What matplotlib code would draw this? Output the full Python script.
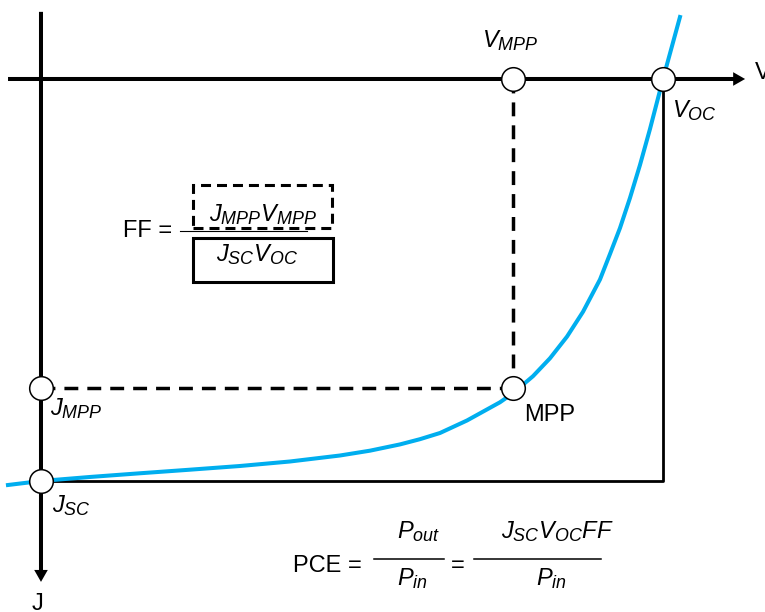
import matplotlib.pyplot as plt
import matplotlib._mathtext as mathtext_core
from matplotlib.patches import Rectangle
from matplotlib.lines import Line2D

plt.rcParams['font.family'] = 'Liberation Sans'
plt.rcParams['mathtext.fontset'] = 'custom'
plt.rcParams['mathtext.rm'] = 'Liberation Sans'
plt.rcParams['mathtext.it'] = 'Liberation Sans:italic'
plt.rcParams['mathtext.bf'] = 'Liberation Sans:bold'
plt.rcParams['lines.scale_dashes'] = False
# slightly larger subscripts than the mathtext default
mathtext_core.SHRINK_FACTOR = 0.76

# J-V curve, V in units of V_OC, J in units of J_SC (J drawn downward)
v_curve = [-0.0531, 0.0, 0.0788, 0.1592, 0.2395, 0.3199, 0.4003, 0.4807, 0.5289,
           0.5772, 0.6093, 0.6415, 0.6849, 0.7379, 0.7588, 0.7910, 0.8183, 0.8457,
           0.8714, 0.8987, 0.9148, 0.9309, 0.9469, 0.9630, 0.9791, 1.0, 1.0273]
j_curve = [1.0100, 1.0, 0.9900, 0.9808, 0.9719, 0.9627, 0.9515, 0.9366, 0.9246,
           0.9090, 0.8960, 0.8806, 0.8495, 0.8042, 0.7816, 0.7393, 0.6948, 0.6408,
           0.5791, 0.4988, 0.4353, 0.3706, 0.2960, 0.2139, 0.1244, 0.0, -0.1542]

V_OC, J_SC = 1.0, 1.0
V_MPP, J_MPP = 0.7588, 0.7687

# axis extents
v_axis = [-0.053, 1.132]
j_axis = [-0.167, 1.251]

BLUE = '#00AEEF'
W, H = 765, 612
FS = 17


def frac(x, y):
    # pixel position -> axes fraction
    return x / W, 1 - y / H


fig = plt.figure(figsize=(W / 100, H / 100), dpi=100)
ax = fig.add_axes([0, 0, 1, 1])
ax.set_xlim(-0.0659, 1.164)
ax.set_ylim(1.3259, -0.1965)
ax.axis('off')

# axes with arrow heads
arrow = dict(arrowstyle='simple,head_length=8.6,head_width=9.8,tail_width=2.9',
             fc='black', ec='none', lw=0, shrinkA=0, shrinkB=0, mutation_scale=1)
ax.annotate('', xy=(v_axis[1], 0), xytext=(v_axis[0], 0), arrowprops=arrow, zorder=2)
ax.annotate('', xy=(0, j_axis[1]), xytext=(0, j_axis[0]), arrowprops=arrow, zorder=2)

# J_SC * V_OC rectangle
ax.plot([0, V_OC, V_OC], [J_SC, J_SC, 0], color='black', lw=2.0, zorder=1)

# MPP rectangle (dashed)
ax.plot([V_MPP, V_MPP], [0, J_MPP], color='black', lw=2.5, dashes=(10, 6.5), zorder=2)
ax.plot([0, V_MPP], [J_MPP, J_MPP], color='black', lw=2.5, dashes=(10, 6.5), zorder=2)

ax.plot(v_curve, j_curve, color=BLUE, lw=2.9, solid_joinstyle='round', zorder=3)

ax.plot([V_MPP, V_OC, 0, 0, V_MPP], [0, 0, J_MPP, J_SC, J_MPP], 'o', ls='none',
        ms=17, mfc='white', mec='black', mew=1.1, zorder=5)

# point labels
labels = [
    (r'$V_{MPP}$', (V_MPP, 0), (-3, 32), 'center'),
    (r'$V_{OC}$', (V_OC, 0), (9, -38), 'left'),
    ('V', (v_axis[1], 0), (10, 0), 'left'),
    (r'$J_{MPP}$', (0, J_MPP), (9, -27), 'left'),
    (r'$J_{SC}$', (0, J_SC), (11, -31), 'left'),
    ('J', (0, j_axis[1]), (-9, -28), 'left'),
    ('MPP', (V_MPP, J_MPP), (11, -33), 'left'),
]
for txt, xy, off, ha in labels:
    ax.annotate(txt, xy=xy, xytext=off, textcoords='offset pixels',
                ha=ha, va='baseline', fontsize=FS)

# fill factor
ax.text(*frac(172, 237), 'FF =', transform=ax.transAxes, ha='right', va='baseline', fontsize=FS)
ax.add_line(Line2D([180 / W, 307 / W], [1 - 231 / H] * 2, transform=ax.transAxes,
                   color='black', lw=0.8))
ax.add_patch(Rectangle(frac(193, 228), 139 / W, 43 / H, transform=ax.transAxes,
                       fill=False, ec='black', lw=2.2, ls=(0, (7.2, 4.3))))
ax.add_patch(Rectangle(frac(193, 282), 140 / W, 44 / H, transform=ax.transAxes,
                       fill=False, ec='black', lw=2.2))
ax.text(*frac(263, 221), r'$J_{MPP}V_{MPP}$', transform=ax.transAxes,
        ha='center', va='baseline', fontsize=FS)
ax.text(*frac(257, 261), r'$J_{SC}V_{OC}$', transform=ax.transAxes,
        ha='center', va='baseline', fontsize=FS)

# power conversion efficiency
ax.text(*frac(293, 572), 'PCE =', transform=ax.transAxes, ha='left', va='baseline', fontsize=FS)
ax.add_line(Line2D([374 / W, 444 / W], [1 - 559 / H] * 2, transform=ax.transAxes,
                   color='black', lw=1.1))
ax.text(*frac(419, 538), r'$P_{out}$', transform=ax.transAxes, ha='center', va='baseline', fontsize=FS)
ax.text(*frac(412, 585), r'$P_{in}$', transform=ax.transAxes, ha='center', va='baseline', fontsize=FS)
ax.text(*frac(457.5, 572), '=', transform=ax.transAxes, ha='center', va='baseline', fontsize=FS)
ax.add_line(Line2D([474 / W, 601 / W], [1 - 559 / H] * 2, transform=ax.transAxes,
                   color='black', lw=1.1))
ax.text(*frac(557, 538), r'$J_{SC}V_{OC}FF$', transform=ax.transAxes, ha='center', va='baseline', fontsize=FS)
ax.text(*frac(551, 585), r'$P_{in}$', transform=ax.transAxes, ha='center', va='baseline', fontsize=FS)

fig.savefig('out.png', dpi=100)
